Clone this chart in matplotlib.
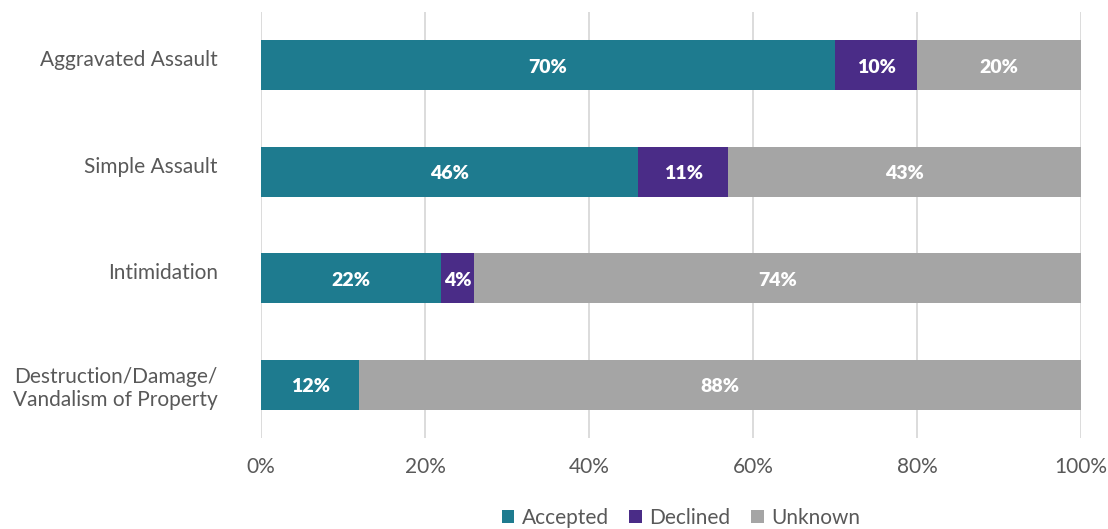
import matplotlib
matplotlib.use("Agg")
import matplotlib.pyplot as plt
import matplotlib.transforms as mtransforms
from matplotlib.ticker import PercentFormatter

categories = ["Aggravated Assault", "Simple Assault", "Intimidation",
              "Destruction/Damage/\nVandalism of Property"]
accepted = [70, 46, 22, 12]
declined = [10, 11, 4, 0]
unknown = [20, 43, 74, 88]
series_names = ["Accepted", "Declined", "Unknown"]
colors = ["#1E7B8F", "#4A2C87", "#A5A5A5"]
xticks = [0, 20, 40, 60, 80, 100]

plt.rcParams['font.family'] = ['Lato', 'DejaVu Sans']

fig = plt.figure(figsize=(11.08, 5.29), dpi=100)
ax = fig.add_axes([0.2356, 0.172, 0.74, 0.805])

y = list(range(len(categories)))
left = [0] * len(categories)
for name, vals, c in zip(series_names, [accepted, declined, unknown], colors):
    ax.barh(y, vals, left=left, height=0.47, color=c, label=name, zorder=3)
    for yi, l, v in zip(y, left, vals):
        if v > 0:
            ax.text(l + v / 2, yi + 0.02, f"{v}%", ha="center", va="center",
                    color="white", fontsize=14, fontweight="heavy", zorder=4)
    left = [a + b for a, b in zip(left, vals)]

ax.set_ylim(3.5, -0.5)
ax.set_xlim(0, 100)
ax.set_xticks(xticks)
ax.xaxis.set_major_formatter(PercentFormatter(decimals=0))
ax.set_yticks(y)
ax.set_yticklabels(categories, multialignment="center")
ax.tick_params(axis="y", length=0, pad=31, labelsize=15, labelcolor="#595959")
ax.tick_params(axis="x", length=0, pad=14, labelsize=15, labelcolor="#595959")
for lbl in ax.get_yticklabels():
    if "\n" not in lbl.get_text():
        lbl.set_transform(lbl.get_transform() +
                          mtransforms.ScaledTranslation(0, 5 / 72, fig.dpi_scale_trans))
ax.grid(axis="x", color="#D9D9D9", linewidth=1.3, zorder=0)
for s in ax.spines.values():
    s.set_visible(False)

ax.legend(loc="lower center", bbox_to_anchor=(0.512, -0.255), ncol=3,
          frameon=False, fontsize=15, handlelength=0.6, handleheight=0.6,
          handletextpad=0.35, columnspacing=1.0, labelcolor="#595959")

fig.savefig("out.png", dpi=100)
